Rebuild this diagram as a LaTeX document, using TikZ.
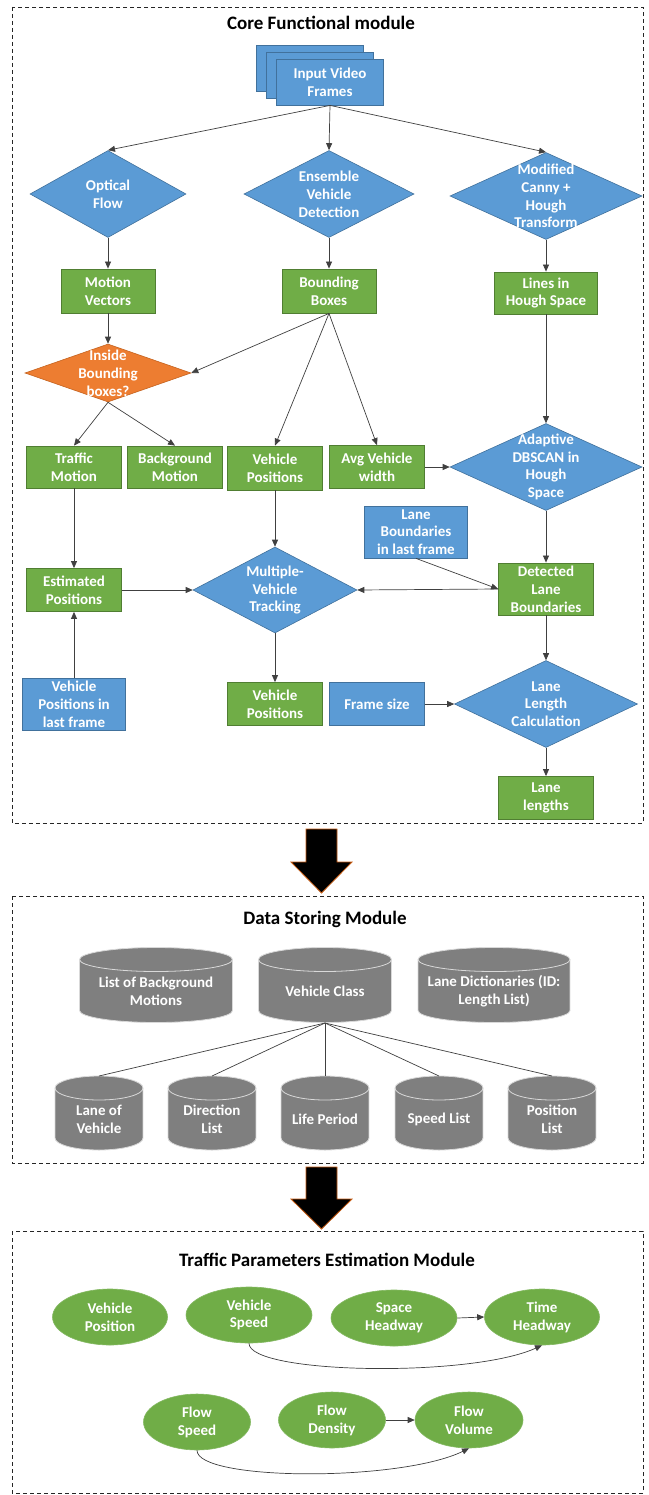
\documentclass[tikz,border=0pt]{standalone}
\usepackage{fontspec}
\setmainfont{Carlito}
\usetikzlibrary{arrows.meta,shapes.geometric}
\definecolor{cblue}{HTML}{5B9BD5}
\definecolor{cbluedk}{HTML}{41719C}
\definecolor{cgreen}{HTML}{70AD47}
\definecolor{cgreendk}{HTML}{507E32}
\definecolor{corange}{HTML}{ED7D31}
\definecolor{corangedk}{HTML}{C5631F}
\definecolor{cgray}{HTML}{7F7F7F}
\definecolor{cline}{HTML}{404040}
\definecolor{carrowedge}{HTML}{C55A11}
\newcommand\dbcyl[6]{%
  \pgfmathsetmacro\cylL{#2-#4/2}\pgfmathsetmacro\cylR{#2+#4/2}%
  \pgfmathsetmacro\cylT{#3-#5/2+12}\pgfmathsetmacro\cylB{#3+#5/2-12}%
  \fill[cylfill] (\cylL,\cylT) rectangle (\cylR,\cylB);
  \fill[cylfill] (#2,\cylB) ellipse[x radius=#4/2, y radius=12];
  \fill[cylfill] (#2,\cylT) ellipse[x radius=#4/2, y radius=12];
  \draw[cylline] (\cylL,\cylT) -- (\cylL,\cylB) arc[start angle=180, end angle=0, x radius=#4/2, y radius=12] -- (\cylR,\cylT);
  \draw[cylline] (#2,\cylT) ellipse[x radius=#4/2, y radius=12];
  \node[cyltxt, minimum width=#4, minimum height=#5] (#1) at (#2,#3+6) {#6};
}
\begin{document}
\begin{tikzpicture}[x=1pt,y=-1pt,
  txt/.style={font=\fontsize{15}{17.8}\selectfont\bfseries, text=white, align=center},
  sz/.style 2 args={minimum width=#1, minimum height=#2},
  bbox/.style={rectangle, txt, draw=cbluedk, fill=cblue, line width=0.8pt, inner sep=1pt},
  gbox/.style={rectangle, txt, draw=cgreendk, fill=cgreen, line width=0.8pt, inner sep=1pt},
  bdia/.style={diamond, draw=cbluedk, fill=cblue, line width=0.6pt, inner sep=0pt},
  odia/.style={diamond, draw=corangedk, fill=corange, line width=0.6pt, inner sep=0pt},
  dlab/.style={txt},
  conn/.style={draw=cline, line width=0.7pt, -{Triangle[length=7pt,width=6pt]}},
  plainline/.style={draw=cline, line width=0.7pt},
  module/.style={draw=black!85, line width=0.9pt, dash pattern=on 4pt off 3pt},
  title/.style={font=\fontsize{19}{22}\selectfont\bfseries, text=black},
  gell/.style={ellipse, txt, fill=cgreen, draw=cgreen!85!white, line width=0.6pt, inner sep=0pt},
  cyltxt/.style={rectangle, txt, inner sep=0pt},
  cylfill/.style={fill=cgray},
  cylline/.style={draw=white!85!black, line width=0.8pt},
  blockarrow/.style={fill=black, draw=carrowedge, line width=0.8pt},
]
\fill[white] (0,0) rectangle (648,1495);
\useasboundingbox (0,0) rectangle (648,1495);

% ---------------- Core functional module ----------------
\draw[module] (12,7) rectangle (643,823);
\node[title] (t1) at (321,23) {Core Functional module};

\node[bbox, sz={107}{46}] (in3) at (310,68) {};
\node[bbox, sz={107}{46}] (in2) at (320,75) {};
\node[bbox, sz={107}{46}] (in1) at (330,82) {Input Video\\Frames};

\node[bdia, sz={156}{87}, label={[dlab]center:Optical\\Flow}] (of) at (108,194) {};
\node[bdia, sz={170}{87}, label={[dlab]center:Ensemble\\Vehicle\\Detection}] (ev) at (329,194) {};
\node[bdia, sz={192}{87}, label={[dlab]center:Modified\\Canny +\\Hough\\Transform}] (mc) at (546,196) {};

\node[gbox, sz={94}{44}] (mv) at (108,291) {Motion\\Vectors};
\node[gbox, sz={94}{44}] (bb) at (329,291) {Bounding\\Boxes};
\node[gbox, sz={103}{42}] (lh) at (546,293) {Lines in\\Hough Space};

\node[odia, sz={166}{58}, label={[dlab]center:Inside\\Bounding\\boxes?}] (ib) at (108,373) {};

\node[gbox, sz={95}{42}] (tm) at (74,467) {Traffic\\Motion};
\node[gbox, sz={95}{42}] (bm) at (175,467) {Background\\Motion};
\node[gbox, sz={95}{44}] (vp) at (275,468) {Vehicle\\Positions};
\node[gbox, sz={95}{43}] (aw) at (377,467) {Avg Vehicle\\width};
\node[bdia, sz={192}{87}, label={[dlab]center:Adaptive\\DBSCAN in\\Hough\\Space}] (ad) at (546,467) {};

\node[bbox, sz={103}{52}] (lb) at (416,532) {Lane\\Boundaries\\in last frame};
\node[gbox, sz={95}{43}] (ep) at (74,590) {Estimated\\Positions};
\node[bdia, sz={164}{86}, label={[dlab]center:Multiple-\\Vehicle\\Tracking}] (mt) at (275,590) {};
\node[gbox, sz={95}{52}] (dl) at (546,589) {Detected\\Lane\\Boundaries};

\node[bbox, sz={103}{52}] (vl) at (74,704) {Vehicle\\Positions in\\last frame};
\node[gbox, sz={95}{43}] (vp2) at (275,704) {Vehicle\\Positions};
\node[bbox, sz={95}{43}] (fs) at (377,704) {Frame size};
\node[bdia, sz={183}{87}, label={[dlab]center:Lane\\Length\\Calculation}] (ll) at (546,704) {};
\node[gbox, sz={95}{43}] (ln) at (546,798) {Lane\\lengths};

\draw[conn] (in1.south) -- (of.north);
\draw[conn] (in1.south) -- (ev.north);
\draw[conn] (in1.south) -- (mc.north);
\draw[conn] (of.south) -- (mv.north);
\draw[conn] (ev.south) -- (bb.north);
\draw[conn] (mc.south) -- (lh.north);
\draw[conn] (mv.south) -- (ib.north);
\draw[conn] (bb.south) -- (ib.east);
\draw[conn] (bb.south) -- (vp.north);
\draw[conn] (bb.south) -- (aw.north);
\draw[conn] (lh.south) -- (ad.north);
\draw[conn] (ib.south) -- (tm.north);
\draw[conn] (ib.south) -- (bm.north);
\draw[conn] (aw.east) -- (ad.west);
\draw[conn] (tm.south) -- (ep.north);
\draw[conn] (vp.south) -- (mt.north);
\draw[conn] (ep.east) -- (mt.west);
\draw[conn] (dl.west) -- (mt.east);
\draw[conn] (lb.south) -- (dl.west);
\draw[conn] (ad.south) -- (dl.north);
\draw[conn] (vl.north) -- (ep.south);
\draw[conn] (mt.south) -- (vp2.north);
\draw[conn] (fs.east) -- (ll.west);
\draw[conn] (dl.south) -- (ll.north);
\draw[conn] (ll.south) -- (ln.north);

% block arrow 1
\draw[blockarrow] (306,829) -- (337,829) -- (337,862) -- (352,862) -- (321.5,893) -- (291,862) -- (306,862) -- cycle;

% ---------------- Data storing module ----------------
\draw[module] (12,896) rectangle (643,1163);
\node[title] (t2) at (325,919) {Data Storing Module};

\dbcyl{lbg}{156}{985}{153}{75}{List of Background\\Motions}
\dbcyl{vc}{325}{985}{133}{75}{Vehicle Class}
\dbcyl{ld}{494}{985}{152}{75}{Lane Dictionaries (ID:\\Length List)}

\dbcyl{lv}{99}{1113}{88}{74}{Lane of\\Vehicle}
\dbcyl{dr}{212}{1113}{88}{74}{Direction\\List}
\dbcyl{lp}{325}{1113}{88}{74}{Life Period}
\dbcyl{sl}{439}{1113}{88}{74}{Speed List}
\dbcyl{pl}{552}{1113}{88}{74}{Position\\List}

\coordinate (vcb) at (325,1023);
\coordinate (lvt) at (99,1076);
\coordinate (drt) at (212,1076);
\coordinate (lpt) at (325,1076);
\coordinate (slt) at (439,1076);
\coordinate (plt) at (552,1076);
\draw[plainline] (vcb) -- (lvt);
\draw[plainline] (vcb) -- (drt);
\draw[plainline] (vcb) -- (lpt);
\draw[plainline] (vcb) -- (slt);
\draw[plainline] (vcb) -- (plt);

% block arrow 2
\draw[blockarrow] (306,1167) -- (337,1167) -- (337,1199) -- (352,1199) -- (321.5,1229) -- (291,1199) -- (306,1199) -- cycle;

% ---------------- Traffic parameters module ----------------
\draw[module] (12,1231) rectangle (643,1493);
\node[title] (t3) at (327,1260) {Traffic Parameters Estimation Module};

\node[gell, sz={115}{56}] (vpos) at (110,1317) {Vehicle\\Position};
\node[gell, sz={126}{56}] (vs) at (249,1315) {Vehicle\\Speed};
\node[gell, sz={126}{56}] (sh) at (394,1318) {Space\\Headway};
\node[gell, sz={115}{56}] (th) at (542,1317) {Time\\Headway};

\node[gell, sz={107}{56}] (fsp) at (197,1422) {Flow\\Speed};
\node[gell, sz={107}{56}] (fd) at (332,1420) {Flow\\Density};
\node[gell, sz={108}{56}] (fv) at (469,1420) {Flow\\Volume};

\draw[conn] (sh.east) -- (th.west);
\draw[conn] (vs.south) .. controls (249,1374) and (470,1378) .. (th.south);
\draw[conn] (fd.east) -- (fv.west);
\draw[conn] (fsp.south) .. controls (197,1481) and (400,1482) .. (fv.south);
\end{tikzpicture}
\end{document}
